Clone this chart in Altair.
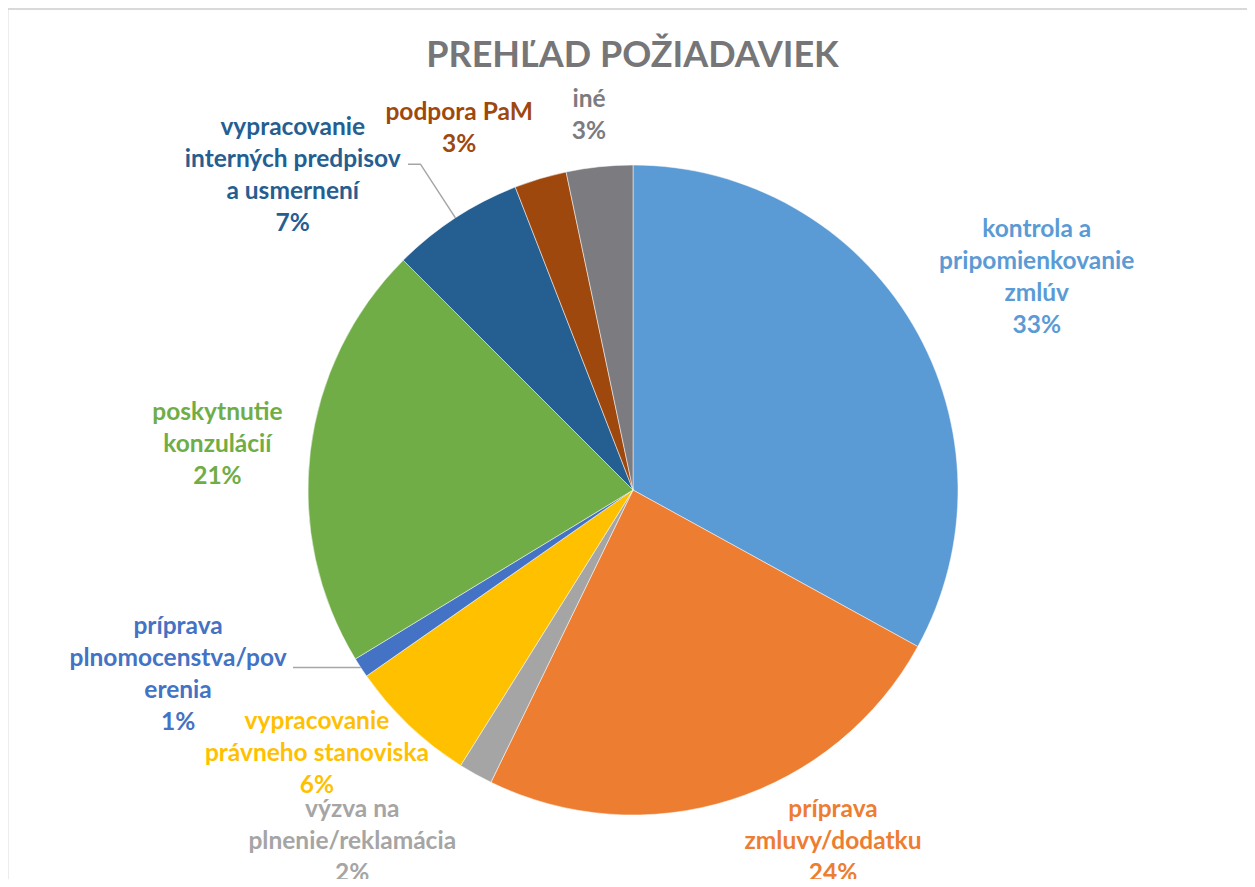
import math
import altair as alt
import pandas as pd

# ---------------- data ----------------
TITLE = "PREHĽAD POŽIADAVIEK"
categories = [
    "kontrola a pripomienkovanie zmlúv",
    "príprava zmluvy/dodatku",
    "výzva na plnenie/reklamácia",
    "vypracovanie právneho stanoviska",
    "príprava plnomocenstva/poverenia",
    "poskytnutie konzulácií",
    "vypracovanie interných predpisov a usmernení",
    "podpora PaM",
    "iné",
]
shares = [33.0, 24.2, 1.7, 6.4, 1.0, 21.2, 6.6, 2.6, 3.3]
pct_labels = ["33%", "24%", "2%", "6%", "1%", "21%", "7%", "3%", "3%"]
label_lines = [
    ["kontrola a", "pripomienkovanie", "zmlúv"],
    ["príprava", "zmluvy/dodatku"],
    ["výzva na", "plnenie/reklamácia"],
    ["vypracovanie", "právneho stanoviska"],
    ["príprava", "plnomocenstva/pov", "erenia"],
    ["poskytnutie", "konzulácií"],
    ["vypracovanie", "interných predpisov", "a usmernení"],
    ["podpora PaM"],
    ["iné"],
]
colors = ["#5B9BD5", "#ED7D31", "#A5A5A5", "#FFC000", "#4472C4",
          "#70AD47", "#255E91", "#9E480E", "#7C7C80"]

# ---------------- layout ----------------
W, H = 1239, 871
CX, CY, R = 625, 482, 325
FONT = "Lato"
LH = 32
# label placement (polar: angle in degrees clockwise from top, radius px, block centre)
label_angle = [62.3, 150.4, 218.6, 230.1, 247.9, 276.2, 312.7, 334.3, 353.3]
label_radius = [456, 405, 450, 412, 491, 418, 463, 401, 377]
# leader lines: (slice index, elbow radius, end x)
leaders = [(6, 389, 400), (4, R, 285)]

texts = ["\n".join(l + [p]) for l, p in zip(label_lines, pct_labels)]
lx, ly = [], []
for a_deg, r, t in zip(label_angle, label_radius, texts):
    a = math.radians(a_deg)
    n = t.count("\n") + 1
    lx.append(CX + r * math.sin(a))
    ly.append(CY - r * math.cos(a) - (n - 1) * LH / 2)

df = pd.DataFrame({
    "cat": categories,
    "share": shares,
    "order": list(range(len(categories))),
    "text": texts,
    "tcolor": colors,
    "lx": lx,
    "ly": ly,
})

total = sum(shares)
rows = []
for g, (i, r_elb, x_end) in enumerate(leaders):
    a = math.radians((sum(shares[:i]) + shares[i] / 2) / total * 360)
    p0 = (CX + R * math.sin(a), CY - R * math.cos(a))
    p1 = (CX + r_elb * math.sin(a), CY - r_elb * math.cos(a))
    p2 = (x_end, p1[1])
    for o, (x, y) in enumerate([p0, p1, p2]):
        rows.append({"g": g, "o": o, "x": x, "y": y})
lines_df = pd.DataFrame(rows)

pie = alt.Chart(df).mark_arc(outerRadius=R, x=CX, y=CY, stroke="white", strokeWidth=0.5).encode(
    theta=alt.Theta("share:Q", stack=True),
    color=alt.Color("cat:N", scale=alt.Scale(domain=categories, range=colors), legend=None),
    order=alt.Order("order:Q"),
)

labels = alt.Chart(df).mark_text(
    font=FONT, fontWeight="bold", fontSize=24.5,
    lineBreak="\n", lineHeight=LH, align="center", baseline="middle",
).encode(
    x=alt.X("lx:Q", scale=None),
    y=alt.Y("ly:Q", scale=None),
    text="text:N",
    color=alt.Color("tcolor:N", scale=None),
)

leader_lines = alt.Chart(lines_df).mark_line(color="#A6A6A6", strokeWidth=1.5).encode(
    x=alt.X("x:Q", scale=None),
    y=alt.Y("y:Q", scale=None),
    detail="g:N",
    order="o:Q",
)

title = alt.Chart(pd.DataFrame({"t": [TITLE]})).mark_text(
    font=FONT, fontWeight="bold", fontSize=36, color="#767678",
    align="center", baseline="alphabetic",
).encode(x=alt.value(624.5), y=alt.value(59), text="t:N")

border_df = pd.DataFrame({"k": [0]})
border_left = alt.Chart(border_df).mark_rule(color="#D9D9D9", strokeWidth=2).encode(
    x=alt.value(-0.5), y=alt.value(0), y2=alt.value(H + 10))
border_top = alt.Chart(border_df).mark_rule(color="#D9D9D9", strokeWidth=2).encode(
    x=alt.value(-1), x2=alt.value(W + 10), y=alt.value(1))

chart = alt.layer(border_left, border_top, pie, leader_lines, labels, title).properties(
    width=W, height=H, padding=0, autosize="none",
).configure_view(stroke=None)

chart.save("out.html", embed_options={"renderer": "svg", "actions": False})
